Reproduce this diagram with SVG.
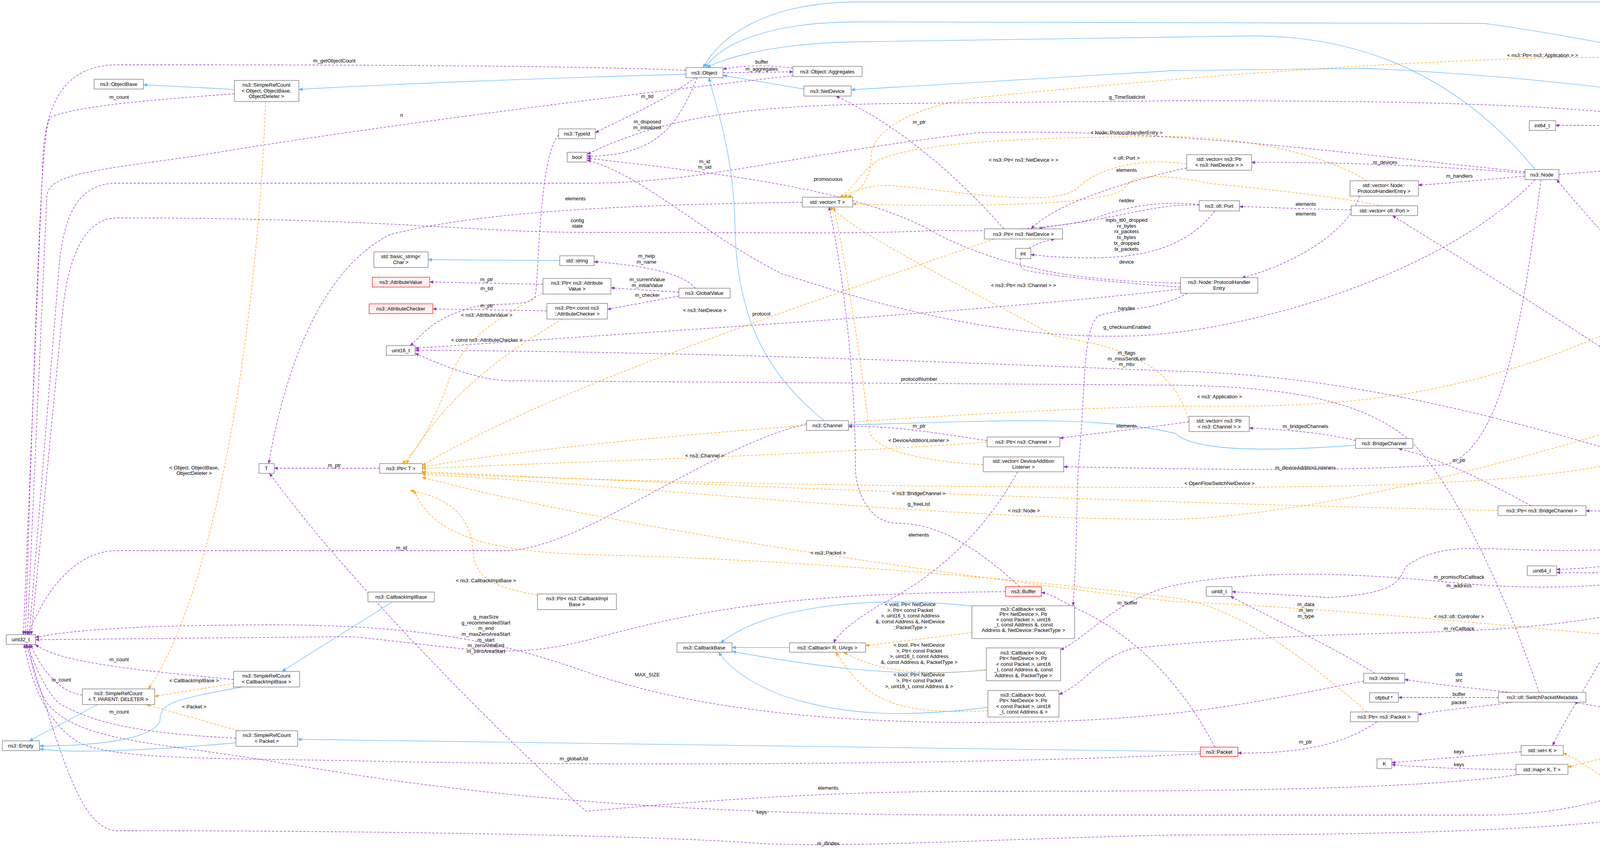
<svg xmlns="http://www.w3.org/2000/svg" width="6035" height="2179" viewBox="0 0 6035 2179">
<style>
rect{fill:#fff;stroke:#666;stroke-width:1.2}
.r rect{fill:#fff0f0;stroke:#f00}
.g rect{fill:#999;stroke:#666}
text{font-family:"Liberation Sans",Arial,sans-serif;font-size:13px;text-anchor:middle;fill:#000}
.u{stroke:#9a32cd;stroke-width:1.3;stroke-dasharray:6,4;fill:none;marker-end:url(#ap)}
.p{stroke:#ffa500;stroke-width:1.3;stroke-dasharray:6,4;fill:none;marker-end:url(#ao)}
.i{stroke:#63b8ff;stroke-width:1.3;fill:none;marker-end:url(#ab)}
</style>
<defs>
<marker id="ap" viewBox="0 0 10 10" refX="9" refY="5" markerWidth="10" markerHeight="10" markerUnits="userSpaceOnUse" orient="auto"><path d="M0,1 L10,5 L0,9 z" fill="#9a32cd"/></marker>
<marker id="ao" viewBox="0 0 10 10" refX="9" refY="5" markerWidth="10" markerHeight="10" markerUnits="userSpaceOnUse" orient="auto"><path d="M0,1 L10,5 L0,9 z" fill="#ffa500"/></marker>
<marker id="ab" viewBox="0 0 10 10" refX="9" refY="5" markerWidth="11" markerHeight="11" markerUnits="userSpaceOnUse" orient="auto"><path d="M0,1 L10,5 L0,9 z" fill="#63b8ff"/></marker>
</defs>
<rect x="0" y="0" width="6035" height="2179" style="fill:#fff;stroke:none"/>
<g id="edges">
<!-- inheritance -->
<path class="i" d="M600,229 L367,217"/>
<path class="i" d="M1756,190 C1400,200 1000,215 765,229"/>
<path class="i" d="M2058,228 L1851,193"/>
<path class="i" d="M2110,1077 C1950,950 1890,800 1882,600 C1880,400 1840,300 1815,199"/>
<path class="i" d="M3930,434 C3820,300 3600,90 3200,92 L2200,107 C1950,110 1830,160 1810,173"/>
<path class="i" d="M4735,280 C4600,230 4300,130 3800,60 L2200,56 C1950,56 1840,120 1805,173"/>
<path class="i" d="M5733,1438 C5720,1100 5700,300 5620,80 C5580,20 5550,5 5400,5 L2200,5 C1950,5 1840,100 1800,173"/>
<path class="i" d="M4780,1315 C4760,900 4720,400 4620,340 C4500,260 4000,200 3500,175 L3000,181 L2179,230"/>
<path class="i" d="M3470,1140 C3200,1160 3050,1150 3010,1110 C2800,1060 2500,1080 2172,1088"/>
<path class="i" d="M1005,1541 L722,1719"/>
<path class="i" d="M250,1804 L75,1897"/>
<path class="i" d="M620,1759 C450,1790 410,1800 410,1840 C410,1880 300,1910 101,1910"/>
<path class="i" d="M604,1902 C400,1920 200,1930 101,1918"/>
<path class="i" d="M3073,1925 L762,1893"/>
<path class="i" d="M1433,667 L1096,665"/>
<path class="i" d="M2021,1658 L1874,1658"/>
<path class="i" d="M2500,1553 C2200,1520 1950,1560 1845,1646"/>
<path class="i" d="M2525,1715 C2300,1740 2050,1700 1874,1668"/>
<path class="i" d="M2529,1811 C2300,1840 2150,1830 2000,1780 C1900,1740 1860,1700 1840,1670"/>
<!-- templates -->
<path class="p" d="M680,260 C660,800 560,1500 380,1764"/>
<path class="p" d="M598,1750 L396,1783"/>
<path class="p" d="M610,1871 L375,1804"/>
<path class="p" d="M1390,750 C1250,830 1180,870 1140,1000 C1100,1100 1070,1150 1030,1187"/>
<path class="p" d="M1440,817 C1300,900 1150,1000 1040,1187"/>
<path class="p" d="M2545,612 C2000,800 1400,1000 1081,1192"/>
<path class="p" d="M2527,1132 C2000,1170 1500,1180 1081,1200"/>
<path class="p" d="M3835,1307 C3000,1290 2000,1250 1081,1208"/>
<path class="p" d="M4340,1036 C4000,1150 3400,1320 3000,1330 C2400,1330 1600,1240 1081,1215"/>
<path class="p" d="M3500,1823 C3300,1650 3150,1550 3000,1530 C2600,1480 2000,1430 1500,1420 C1200,1410 1100,1350 1060,1256"/>
<path class="p" d="M5060,356 C4900,500 4500,700 4000,900 C3600,1050 3300,1040 3000,1040 C2500,1050 1500,1120 1081,1196"/>
<path class="p" d="M5058,1308 C4900,1150 4600,1100 4300,1150 C4000,1230 3700,1248 3000,1248 C2200,1248 1500,1230 1081,1211"/>
<path class="p" d="M1376,1524 C1250,1500 1215,1480 1210,1400 C1200,1300 1120,1270 1050,1256"/>
<path class="p" d="M5930,1578 C5850,1650 5800,1657 5700,1657 L4500,1657 C4000,1620 3500,1560 3000,1540 C2500,1480 1600,1360 1081,1222"/>
<path class="p" d="M5397,323 C5300,200 5250,147 5100,147 L4000,147 C3500,160 3000,200 2500,250 C2300,280 2230,350 2230,400 C2230,460 2200,490 2170,505"/>
<path class="p" d="M3038,420 C2900,400 2800,440 2760,480 C2700,540 2400,480 2270,475 C2220,475 2180,490 2160,505"/>
<path class="p" d="M3500,463 C3400,400 3200,350 3000,350 C2700,350 2350,360 2250,410 C2200,440 2190,480 2150,505"/>
<path class="p" d="M3540,527 C3400,500 3200,480 3100,470 C2950,440 2900,450 2880,480 C2850,530 2400,530 2183,522"/>
<path class="p" d="M3044,1080 C3000,900 2800,880 2700,860 C2400,700 2200,600 2125,530"/>
<path class="p" d="M2517,1190 C2350,1180 2230,1150 2225,1100 C2200,900 2170,700 2135,530"/>
<path class="p" d="M2488,1620 L2216,1653"/>
<path class="p" d="M2525,1716 C2350,1730 2250,1720 2160,1670"/>
<path class="p" d="M2529,1820 C2300,1830 2220,1800 2140,1670"/>
<path class="p" d="M5385,1471 C5250,1650 5100,1900 4900,2050 C4700,2180 4400,2150 4200,2050 C4100,1990 4050,1950 4002,1928"/>
<path class="p" d="M4330,1884 L4014,1964"/>
<!-- usage -->
<path class="u" d="M1756,180 C1400,165 600,166 300,166 C200,166 120,220 110,400 L60,1625"/>
<path class="u" d="M600,240 C400,255 200,270 130,300 C110,320 100,500 65,1625"/>
<path class="u" d="M2030,194 C1700,230 900,330 500,400 C200,440 130,450 120,500 L70,1625"/>
<path class="u" d="M3904,440 C3500,400 3000,326 2500,340 C2000,400 1800,469 1500,469 L300,469 C200,469 160,550 150,700 L75,1625"/>
<path class="u" d="M3070,525 C2900,520 2800,600 2400,590 C2200,600 2000,595 1500,595 C1200,595 1000,558 300,558 C200,558 170,700 160,800 L80,1625"/>
<path class="u" d="M2065,1085 C1800,1150 1500,1400 1300,1410 L300,1410 C200,1410 120,1500 72,1625"/>
<path class="u" d="M598,1740 C400,1720 150,1700 91,1650"/>
<path class="u" d="M211,1780 C150,1770 110,1720 78,1650"/>
<path class="u" d="M604,1890 C400,1880 250,1860 150,1800 C110,1760 90,1700 68,1650"/>
<path class="u" d="M2574,1515 C2000,1520 1800,1560 1500,1640 C1300,1690 1200,1660 900,1630 L91,1638"/>
<path class="u" d="M3073,1930 C2500,1960 1500,1960 1000,1950 C600,1940 300,1950 200,1900 C120,1850 80,1750 62,1650"/>
<path class="u" d="M3491,1744 C3200,1800 3000,1850 2500,1850 C2000,1850 1700,1790 1500,1720 C1300,1650 1100,1600 700,1600 C400,1600 200,1610 91,1632"/>
<path class="u" d="M4400,1884 C4300,1990 4100,2087 3800,2087 L2500,2087 C1500,2087 1000,2000 700,1950 C400,1900 200,1900 120,1800 C90,1750 80,1700 75,1650"/>
<path class="u" d="M4740,1341 C4700,1600 4600,1900 4400,2050 C4200,2130 3500,2138 3000,2138 C2500,2150 2200,2170 1950,2160 C1700,2140 1000,2127 300,2127 C200,2127 150,1900 66,1650"/>
<path class="u" d="M3890,1983 C3600,2026 3000,2026 2500,2026 C2000,2026 1600,2070 1500,2077 C1300,1900 900,1500 690,1212"/>
<path class="u" d="M2054,518 C1500,525 1200,550 1000,600 C800,700 720,1000 688,1187"/>
<path class="u" d="M972,1199 L702,1199"/>
<path class="u" d="M1780,199 C1700,260 1600,300 1524,340"/>
<path class="u" d="M1785,199 C1740,300 1700,400 1503,400"/>
<path class="u" d="M3022,725 C2800,720 2600,700 2400,600 C2200,480 1800,440 1503,405"/>
<path class="u" d="M4364,315 C4000,260 3500,258 3000,258 L2300,265 C1900,270 1700,300 1503,395"/>
<path class="u" d="M3930,460 C3700,700 3200,850 2900,860 C2600,870 2300,800 2000,700 C1800,600 1650,450 1503,410"/>
<path class="u" d="M1430,345 C1380,400 1380,700 1370,760 C1350,790 1250,770 1200,790 C1100,820 1080,860 1050,885"/>
<path class="u" d="M3022,740 C2500,800 1800,840 1063,892"/>
<path class="u" d="M4667,1325 C4000,1100 3500,960 3000,950 C2500,930 1800,900 1063,897"/>
<path class="u" d="M3940,1773 C3850,1500 3700,1200 3600,1120 C3450,1000 3200,990 3000,986 L1300,975 C1200,970 1100,920 1063,905"/>
<path class="u" d="M1780,738 C1750,700 1650,680 1521,670"/>
<path class="u" d="M1738,748 L1564,737"/>
<path class="u" d="M1738,758 L1555,792"/>
<path class="u" d="M1390,728 L1100,722"/>
<path class="u" d="M1400,796 L1108,791"/>
<path class="u" d="M1851,186 L2030,184"/>
<path class="u" d="M2030,174 C1950,165 1900,168 1851,177"/>
<path class="u" d="M2570,586 C2450,450 2300,320 2140,246"/>
<path class="u" d="M3038,430 C2900,460 2700,520 2640,586"/>
<path class="u" d="M3070,524 C2950,510 2850,540 2800,560 C2750,575 2700,575 2660,586"/>
<path class="u" d="M3110,540 C3050,620 2950,660 2800,660 C2700,660 2670,655 2639,652"/>
<path class="u" d="M3022,735 C2800,720 2650,700 2620,690 C2600,670 2610,630 2700,612"/>
<path class="u" d="M3040,751 C2950,800 2850,790 2810,810 C2770,850 2780,1000 2760,1200 C2755,1350 2755,1450 2747,1551"/>
<path class="u" d="M4667,1335 C4400,1480 4100,1530 3700,1490 C3300,1450 3100,1480 3000,1500 C2850,1540 2800,1620 2715,1664"/>
<path class="u" d="M4667,1338 C4400,1550 4100,1610 3600,1620 C3200,1630 3000,1650 2900,1660 C2800,1690 2780,1750 2711,1778"/>
<path class="u" d="M3110,1913 C3000,1700 2850,1600 2760,1560 C2700,1530 2690,1520 2666,1517"/>
<path class="u" d="M2610,1502 C2500,1400 2400,1340 2300,1340 C2220,1340 2190,1250 2190,1200 C2190,900 2140,600 2122,530"/>
<path class="u" d="M2605,1208 C2500,1400 2350,1500 2250,1550 C2170,1600 2140,1630 2135,1646"/>
<path class="u" d="M2527,1128 C2400,1110 2300,1090 2172,1092"/>
<path class="u" d="M3044,1080 C2900,1100 2800,1110 2713,1122"/>
<path class="u" d="M3470,1128 C3400,1110 3300,1100 3198,1096"/>
<path class="u" d="M3920,1295 C3800,1230 3700,1180 3580,1148"/>
<path class="u" d="M3945,460 C3900,800 3850,1150 3700,1190 C3400,1210 3000,1200 2723,1195"/>
<path class="u" d="M4667,1325 C4500,1318 4200,1310 4060,1308"/>
<path class="u" d="M4740,1315 C4680,1250 4600,1240 4454,1230"/>
<path class="u" d="M4700,1315 C4620,1290 4550,1285 4462,1280"/>
<path class="u" d="M4700,1341 C4600,1370 4550,1385 4481,1395"/>
<path class="u" d="M4370,1403 C4200,1440 4100,1455 3985,1458"/>
<path class="u" d="M4680,1341 C4600,1420 4400,1440 4200,1460 C4100,1470 4050,1466 3985,1466"/>
<path class="u" d="M4400,334 C4350,800 4300,1300 4200,1500 C4100,1700 4000,1850 3975,1909"/>
<path class="u" d="M4335,1395 C4000,1420 3900,1405 3800,1405 C3700,1400 3640,1420 3600,1450 C3580,1480 3590,1520 3400,1530 L3154,1515"/>
<path class="u" d="M3520,1724 C3400,1650 3250,1580 3150,1527"/>
<path class="u" d="M3870,1773 C3750,1760 3700,1755 3596,1740"/>
<path class="u" d="M3836,1786 L3580,1786"/>
<path class="u" d="M3870,1798 C3800,1810 3700,1815 3630,1830"/>
<path class="u" d="M3525,1848 C3450,1900 3350,1930 3169,1928"/>
<path class="u" d="M4302,1850 C4200,1830 4100,1810 4030,1798"/>
<path class="u" d="M3894,1925 L3563,1953"/>
<path class="u" d="M3881,1970 C3750,1970 3650,1965 3563,1958"/>
<path class="u" d="M4770,1341 C4740,1500 4600,1700 4440,1845"/>
<path class="u" d="M4790,1341 C4850,1450 4920,1557 5080,1557 L5896,1557"/>
<path class="u" d="M5912,1538 C5870,1500 5830,1480 5768,1463"/>
<path class="u" d="M5664,1450 L5532,1450"/>
<path class="u" d="M5360,1431 C5260,1390 5200,1370 5150,1348"/>
<path class="u" d="M4992,1328 L4895,1328"/>
<path class="u" d="M4720,1315 C4650,1200 4550,1100 4480,1036"/>
<path class="u" d="M4420,1011 C4300,800 4100,600 3985,460"/>
<path class="u" d="M4760,307 C4700,400 4650,500 4600,620 C4550,800 4480,950 4445,1011"/>
<path class="u" d="M3904,443 C3600,420 3400,415 3204,416"/>
<path class="u" d="M3904,451 C3800,460 3700,470 3631,474"/>
<path class="u" d="M3480,502 C3450,600 3300,680 3180,711"/>
<path class="u" d="M3459,537 C3300,535 3250,530 3173,529"/>
<path class="u" d="M4700,1315 C4300,1000 3800,700 3565,552"/>
<path class="u" d="M3991,447 C4300,420 4500,412 5100,412 C5250,410 5320,390 5350,363"/>
<path class="u" d="M4717,297 C4600,305 4500,310 4451,316"/>
<path class="u" d="M5010,330 C4950,315 4900,305 4844,302"/>
<path class="u" d="M5334,343 L5192,343"/>
<path class="u" d="M4700,1315 C4680,1000 4560,700 4500,570 C4460,480 4430,400 4416,334"/>
<path class="u" d="M4364,321 L3982,321"/>
<!-- labels -->
<text x="856" y="160">m_getObjectCount</text>
<text x="305" y="253">m_count</text>
<text x="1028" y="299">n</text>
<text x="1473" y="513">elements</text>
<text x="1478" y="569">config</text><text x="1478" y="583">state</text>
<text x="1804" y="418">m_id</text><text x="1804" y="432">m_sid</text>
<text x="1028" y="1407">m_id</text>
<text x="305" y="1693">m_count</text>
<text x="157" y="1745">m_count</text>
<text x="305" y="1827">m_count</text>
<text x="1244" y="1584">g_maxSize</text><text x="1244" y="1599">g_recommendedStart</text><text x="1244" y="1613">m_end</text><text x="1244" y="1628">m_maxZeroAreaStart</text><text x="1244" y="1643">m_start</text><text x="1244" y="1657">m_zeroAreaEnd</text><text x="1244" y="1672">m_zeroAreaStart</text>
<text x="1469" y="1947">m_globalUid</text>
<text x="1657" y="1732">MAX_SIZE</text>
<text x="1950" y="2084">keys</text>
<text x="2120" y="2164">m_ifIndex</text>
<text x="2120" y="2022">elements</text>
<text x="856" y="1196">m_ptr</text>
<text x="1657" y="251">m_tid</text>
<text x="1657" y="316">m_disposed</text><text x="1657" y="331">m_initialized</text>
<text x="2120" y="463">promiscuous</text>
<text x="2885" y="253">g_TimeStaticInit</text>
<text x="2885" y="842">g_checksumEnabled</text>
<text x="1246" y="743">m_tid</text>
<text x="1949" y="808">protocol</text>
<text x="2884" y="908">m_flags</text><text x="2884" y="923">m_missSendLen</text><text x="2884" y="937">m_mtu</text>
<text x="2353" y="975">protocolNumber</text>
<text x="1655" y="660">m_help</text><text x="1655" y="675">m_name</text>
<text x="1657" y="720">m_currentValue</text><text x="1657" y="735">m_initialValue</text>
<text x="1657" y="760">m_checker</text>
<text x="1246" y="720">m_ptr</text>
<text x="1246" y="787">m_ptr</text>
<text x="1950" y="163">buffer</text><text x="1950" y="181">m_aggregates</text>
<text x="2353" y="317">m_ptr</text>
<text x="2884" y="440">elements</text>
<text x="2884" y="518">netdev</text>
<text x="2884" y="568">mpls_ttl0_dropped</text><text x="2884" y="583">rx_bytes</text><text x="2884" y="597">rx_packets</text><text x="2884" y="612">tx_bytes</text><text x="2884" y="627">tx_dropped</text><text x="2884" y="642">tx_packets</text>
<text x="2884" y="675">device</text>
<text x="2884" y="794">handler</text>
<text x="3735" y="1482">m_promiscRxCallback</text>
<text x="3735" y="1614">m_rxCallback</text>
<text x="2886" y="1548">m_buffer</text>
<text x="2352" y="1295">g_freeList</text>
<text x="2352" y="1374">elements</text>
<text x="2353" y="1095">m_ptr</text>
<text x="2884" y="1095">elements</text>
<text x="3342" y="1096">m_bridgedChannels</text>
<text x="3735" y="1183">m_ptr</text>
<text x="3342" y="1202">m_deviceAdditionListeners</text>
<text x="4409" y="1311">m_channel</text>
<text x="4592" y="1243">m_chain</text>
<text x="4592" y="1288">m_vportTable</text>
<text x="4592" y="1356">m_address</text>
<text x="4182" y="1421">m_allocationIndex</text>
<text x="4409" y="1427">m_id</text>
<text x="4182" y="1465">g_markingTimes</text>
<text x="3735" y="1504">m_address</text>
<text x="3343" y="1552">m_data</text><text x="3343" y="1567">m_len</text><text x="3343" y="1582">m_type</text>
<text x="3735" y="1731">dst</text><text x="3735" y="1746">src</text>
<text x="3735" y="1782">buffer</text>
<text x="3735" y="1803">packet</text>
<text x="3342" y="1904">m_ptr</text>
<text x="4182" y="1807">elements</text>
<text x="3735" y="1929">keys</text>
<text x="3735" y="1962">keys</text>
<text x="4592" y="1636">m_packetData</text>
<text x="5422" y="1553">m_controller</text>
<text x="5851" y="1493">m_ptr</text>
<text x="5600" y="1447">m_switches</text>
<text x="5250" y="1372">keys</text>
<text x="4943" y="1324">m_ptr</text>
<text x="4592" y="1065">m_node</text>
<text x="4209" y="628">m_ptr</text>
<text x="4592" y="432">m_node</text>
<text x="3546" y="420">m_devices</text>
<text x="3736" y="455">m_handlers</text>
<text x="3343" y="527">elements</text>
<text x="3343" y="552">elements</text>
<text x="4183" y="927">m_ports</text>
<text x="4782" y="407">m_applications</text>
<text x="4592" y="284">m_startTime</text><text x="4592" y="300">m_stopTime</text>
<text x="4943" y="312">m_ptr</text>
<text x="5252" y="340">elements</text>
<text x="4592" y="655">m_lastExecute</text><text x="4592" y="671">m_lookupDelay</text>
<text x="4210" y="316">m_data</text>
<text x="497" y="1202">&lt; Object, ObjectBase,</text><text x="497" y="1216">ObjectDeleter &gt;</text>
<text x="497" y="1747">&lt; CallbackImplBase &gt;</text>
<text x="497" y="1814">&lt; Packet &gt;</text>
<text x="1244" y="1491">&lt; ns3::CallbackImplBase &gt;</text>
<text x="1246" y="811">&lt; ns3::AttributeValue &gt;</text>
<text x="1246" y="875">&lt; const ns3::AttributeChecker &gt;</text>
<text x="1804" y="799">&lt; ns3::NetDevice &gt;</text>
<text x="1804" y="1171">&lt; ns3::Channel &gt;</text>
<text x="2352" y="1268">&lt; ns3::BridgeChannel &gt;</text>
<text x="2621" y="1312">&lt; ns3::Node &gt;</text>
<text x="2120" y="1420">&lt; ns3::Packet &gt;</text>
<text x="2352" y="1132">&lt; DeviceAdditionListener &gt;</text>
<text x="2620" y="414">&lt; ns3::Ptr&lt; ns3::NetDevice &gt; &gt;</text>
<text x="2884" y="409">&lt; ofi::Port &gt;</text>
<text x="2884" y="344">&lt; Node::ProtocolHandlerEntry &gt;</text>
<text x="3949" y="146">&lt; ns3::Ptr&lt; ns3::Application &gt; &gt;</text>
<text x="3122" y="1020">&lt; ns3::Application &gt;</text>
<text x="3122" y="1242">&lt; OpenFlowSwitchNetDevice &gt;</text>
<text x="2620" y="735">&lt; ns3::Ptr&lt; ns3::Channel &gt; &gt;</text>
<text x="3735" y="1583">&lt; ns3::ofi::Controller &gt;</text>
<text x="4182" y="1876">&lt; uint32_t, ofi::SwitchPacket</text><text x="4182" y="1891">Metadata &gt;</text>
<text x="4783" y="1959">&lt; Ptr&lt; OpenFlowSwitchNet</text><text x="4783" y="1974">Device &gt; &gt;</text>
<text x="2330" y="1552">&lt; void, Ptr&lt; NetDevice</text><text x="2330" y="1567">&gt;, Ptr&lt; const Packet</text><text x="2330" y="1581">&gt;, uint16_t, const Address</text><text x="2330" y="1596">&amp;, const Address &amp;, NetDevice</text><text x="2330" y="1611">::PacketType &gt;</text>
<text x="2353" y="1656">&lt; bool, Ptr&lt; NetDevice</text><text x="2353" y="1671">&gt;, Ptr&lt; const Packet</text><text x="2353" y="1685">&gt;, uint16_t, const Address</text><text x="2353" y="1700">&amp;, const Address &amp;, PacketType &gt;</text>
<text x="2353" y="1732">&lt; bool, Ptr&lt; NetDevice</text><text x="2353" y="1747">&gt;, Ptr&lt; const Packet</text><text x="2353" y="1762">&gt;, uint16_t, const Address &amp; &gt;</text>
</g>
<g id="n_objbase"><rect x="241" y="203" width="126" height="25"/><text x="304" y="220">ns3::ObjectBase</text></g>
<g id="n_src_obj"><rect x="600" y="206" width="165" height="54"/><text x="682" y="222">ns3::SimpleRefCount</text><text x="682" y="237">&lt; Object, ObjectBase,</text><text x="682" y="251">ObjectDeleter &gt;</text></g>
<g id="n_typeid"><rect x="1430" y="330" width="94" height="25"/><text x="1477" y="347">ns3::TypeId</text></g>
<g id="n_bool"><rect x="1452" y="390" width="51" height="25"/><text x="1477" y="407">bool</text></g>
<g id="n_bstr"><rect x="957" y="645" width="139" height="40"/><text x="1026" y="661">std::basic_string&lt;</text><text x="1026" y="676">Char &gt;</text></g>
<g id="n_attrval" class="r"><rect x="953" y="710" width="147" height="25"/><text x="1026" y="727">ns3::AttributeValue</text></g>
<g id="n_attrchk" class="r"><rect x="945" y="778" width="163" height="25"/><text x="1026" y="795">ns3::AttributeChecker</text></g>
<g id="n_uint16"><rect x="989" y="885" width="74" height="25"/><text x="1026" y="902">uint16_t</text></g>
<g id="n_string"><rect x="1433" y="655" width="88" height="25"/><text x="1477" y="672">std::string</text></g>
<g id="n_ptrav"><rect x="1390" y="713" width="174" height="40"/><text x="1477" y="729">ns3::Ptr&lt; ns3::Attribute</text><text x="1477" y="744">Value &gt;</text></g>
<g id="n_ptrac"><rect x="1400" y="777" width="155" height="40"/><text x="1477" y="793">ns3::Ptr&lt; const ns3</text><text x="1477" y="808">::AttributeChecker &gt;</text></g>
<g id="n_object"><rect x="1756" y="173" width="95" height="26"/><text x="1803" y="191">ns3::Object</text></g>
<g id="n_aggr"><rect x="2030" y="170" width="177" height="26"/><text x="2118" y="188">ns3::Object::Aggregates</text></g>
<g id="n_netdev"><rect x="2058" y="220" width="121" height="26"/><text x="2118" y="238">ns3::NetDevice</text></g>
<g id="n_vecT"><rect x="2054" y="505" width="129" height="25"/><text x="2118" y="522">std::vector&lt; T &gt;</text></g>
<g id="n_ptrnd"><rect x="2520" y="586" width="200" height="26"/><text x="2620" y="604">ns3::Ptr&lt; ns3::NetDevice &gt;</text></g>
<g id="n_int"><rect x="2600" y="636" width="39" height="26"/><text x="2619" y="654">int</text></g>
<g id="n_gv"><rect x="1738" y="738" width="131" height="25"/><text x="1803" y="755">ns3::GlobalValue</text></g>
<g id="n_channel"><rect x="2065" y="1077" width="107" height="25"/><text x="2118" y="1094">ns3::Channel</text></g>
<g id="n_T"><rect x="663" y="1187" width="39" height="25"/><text x="682" y="1204">T</text></g>
<g id="n_ptrT"><rect x="972" y="1187" width="109" height="25"/><text x="1026" y="1204">ns3::Ptr&lt; T &gt;</text></g>
<g id="n_cib"><rect x="942" y="1516" width="170" height="25"/><text x="1027" y="1533">ns3::CallbackImplBase</text></g>
<g id="n_ptrcib"><rect x="1376" y="1521" width="202" height="40"/><text x="1477" y="1537">ns3::Ptr&lt; ns3::CallbackImpl</text><text x="1477" y="1552">Base &gt;</text></g>
<g id="n_uint32"><rect x="16" y="1625" width="75" height="25"/><text x="53" y="1642">uint32_t</text></g>
<g id="n_src_cib"><rect x="598" y="1719" width="169" height="40"/><text x="682" y="1735">ns3::SimpleRefCount</text><text x="682" y="1750">&lt; CallbackImplBase &gt;</text></g>
<g id="n_src_tpd"><rect x="211" y="1764" width="185" height="40"/><text x="303" y="1780">ns3::SimpleRefCount</text><text x="303" y="1795">&lt; T, PARENT, DELETER &gt;</text></g>
<g id="n_empty"><rect x="6" y="1897" width="95" height="25"/><text x="53" y="1914">ns3::Empty</text></g>
<g id="n_src_pkt"><rect x="604" y="1871" width="158" height="40"/><text x="683" y="1887">ns3::SimpleRefCount</text><text x="683" y="1902">&lt; Packet &gt;</text></g>
<g id="n_ptrch"><rect x="2527" y="1119" width="186" height="25"/><text x="2620" y="1136">ns3::Ptr&lt; ns3::Channel &gt;</text></g>
<g id="n_vecdal"><rect x="2517" y="1170" width="206" height="38"/><text x="2620" y="1185">std::vector&lt; DeviceAddition</text><text x="2620" y="1200">Listener &gt;</text></g>
<g id="n_buffer" class="r"><rect x="2574" y="1502" width="92" height="25"/><text x="2620" y="1519">ns3::Buffer</text></g>
<g id="n_cbvoid"><rect x="2488" y="1551" width="263" height="84"/><text x="2620" y="1564">ns3::Callback&lt; void,</text><text x="2620" y="1577">Ptr&lt; NetDevice &gt;, Ptr</text><text x="2620" y="1591">&lt; const Packet &gt;, uint16</text><text x="2620" y="1604">_t, const Address &amp;, const</text><text x="2620" y="1618">Address &amp;, NetDevice::PacketType &gt;</text></g>
<g id="n_cbbase"><rect x="1733" y="1646" width="141" height="24"/><text x="1803" y="1663">ns3::CallbackBase</text></g>
<g id="n_cbR"><rect x="2021" y="1646" width="195" height="24"/><text x="2118" y="1663">ns3::Callback&lt; R, UArgs &gt;</text></g>
<g id="n_cbb1"><rect x="2525" y="1659" width="190" height="84"/><text x="2620" y="1676">ns3::Callback&lt; bool,</text><text x="2620" y="1690">Ptr&lt; NetDevice &gt;, Ptr</text><text x="2620" y="1705">&lt; const Packet &gt;, uint16</text><text x="2620" y="1719">_t, const Address &amp;, const</text><text x="2620" y="1734">Address &amp;, PacketType &gt;</text></g>
<g id="n_cbb2"><rect x="2529" y="1768" width="182" height="68"/><text x="2620" y="1784">ns3::Callback&lt; bool,</text><text x="2620" y="1798">Ptr&lt; NetDevice &gt;, Ptr</text><text x="2620" y="1813">&lt; const Packet &gt;, uint16</text><text x="2620" y="1827">_t, const Address &amp; &gt;</text></g>
<g id="n_int64"><rect x="3915" y="309" width="67" height="25"/><text x="3948" y="326">int64_t</text></g>
<g id="n_time"><rect x="4364" y="309" width="87" height="25"/><text x="4407" y="326">ns3::Time</text></g>
<g id="n_vecpnd"><rect x="3038" y="396" width="166" height="40"/><text x="3121" y="412">std::vector&lt; ns3::Ptr</text><text x="3121" y="427">&lt; ns3::NetDevice &gt; &gt;</text></g>
<g id="n_node"><rect x="3904" y="434" width="87" height="26"/><text x="3947" y="452">ns3::Node</text></g>
<g id="n_vecphe"><rect x="3456" y="463" width="175" height="39"/><text x="3543" y="479">std::vector&lt; Node::</text><text x="3543" y="494">ProtocolHandlerEntry &gt;</text></g>
<g id="n_port"><rect x="3070" y="514" width="103" height="26"/><text x="3121" y="532">ns3::ofi::Port</text></g>
<g id="n_vecport"><rect x="3459" y="527" width="170" height="25"/><text x="3544" y="544">std::vector&lt; ofi::Port &gt;</text></g>
<g id="n_phe"><rect x="3022" y="711" width="198" height="40"/><text x="3121" y="727">ns3::Node::ProtocolHandler</text><text x="3121" y="742">Entry</text></g>
<g id="n_ptrnode"><rect x="4324" y="1011" width="166" height="25"/><text x="4407" y="1028">ns3::Ptr&lt; ns3::Node &gt;</text></g>
<g id="n_vecpch"><rect x="3044" y="1066" width="154" height="39"/><text x="3121" y="1082">std::vector&lt; ns3::Ptr</text><text x="3121" y="1097">&lt; ns3::Channel &gt; &gt;</text></g>
<g id="n_bridge"><rect x="3470" y="1123" width="147" height="25"/><text x="3543" y="1140">ns3::BridgeChannel</text></g>
<g id="n_swchain"><rect x="4361" y="1214" width="93" height="24"/><text x="4407" y="1231">sw_chain *</text></g>
<g id="n_vport"><rect x="4354" y="1262" width="108" height="26"/><text x="4408" y="1280">vport_table_t</text></g>
<g id="n_ptrbc"><rect x="3835" y="1295" width="225" height="25"/><text x="3947" y="1312">ns3::Ptr&lt; ns3::BridgeChannel &gt;</text></g>
<g id="n_mac"><rect x="4335" y="1379" width="146" height="24"/><text x="4408" y="1396">ns3::Mac48Address</text></g>
<g id="n_uint64"><rect x="3910" y="1449" width="75" height="25"/><text x="3947" y="1466">uint64_t</text></g>
<g id="n_uint8"><rect x="3088" y="1502" width="66" height="25"/><text x="3121" y="1519">uint8_t</text></g>
<g id="n_addr"><rect x="3491" y="1724" width="105" height="25"/><text x="3543" y="1741">ns3::Address</text></g>
<g id="n_ofpbuf"><rect x="3506" y="1774" width="74" height="24"/><text x="3543" y="1791">ofpbuf *</text></g>
<g id="n_spm"><rect x="3836" y="1773" width="224" height="25"/><text x="3948" y="1790">ns3::ofi::SwitchPacketMetadata</text></g>
<g id="n_ptrpkt"><rect x="3457" y="1823" width="173" height="25"/><text x="3543" y="1840">ns3::Ptr&lt; ns3::Packet &gt;</text></g>
<g id="n_packet" class="r"><rect x="3073" y="1913" width="96" height="24"/><text x="3121" y="1930">ns3::Packet</text></g>
<g id="n_mapspm"><rect x="4302" y="1845" width="211" height="39"/><text x="4407" y="1861">std::map&lt; uint32_t,</text><text x="4407" y="1876">ofi::SwitchPacketMetadata &gt;</text></g>
<g id="n_setK"><rect x="3894" y="1909" width="108" height="25"/><text x="3948" y="1926">std::set&lt; K &gt;</text></g>
<g id="n_K"><rect x="3525" y="1943" width="38" height="25"/><text x="3544" y="1960">K</text></g>
<g id="n_mapKT"><rect x="3881" y="1957" width="133" height="26"/><text x="3947" y="1975">std::map&lt; K, T &gt;</text></g>
<g id="n_app" class="r"><rect x="4717" y="280" width="127" height="27"/><text x="4780" y="298">ns3::Application</text></g>
<g id="n_ptrapp"><rect x="4987" y="330" width="205" height="26"/><text x="5089" y="348">ns3::Ptr&lt; ns3::Application &gt;</text></g>
<g id="n_vecpapp"><rect x="5334" y="323" width="171" height="40"/><text x="5419" y="339">std::vector&lt; ns3::Ptr</text><text x="5419" y="354">&lt; ns3::Application &gt; &gt;</text></g>
<g id="n_ofsnd" class="g"><rect x="4667" y="1315" width="228" height="26"/><text x="4781" y="1333">ns3::OpenFlowSwitchNetDevice</text></g>
<g id="n_ptrof"><rect x="4992" y="1308" width="194" height="40"/><text x="5089" y="1324">ns3::Ptr&lt; OpenFlowSwitch</text><text x="5089" y="1339">NetDevice &gt;</text></g>
<g id="n_setof"><rect x="5307" y="1431" width="225" height="40"/><text x="5419" y="1447">std::set&lt; Ptr&lt; OpenFlowSwitch</text><text x="5419" y="1462">NetDevice &gt; &gt;</text></g>
<g id="n_ctrl"><rect x="5664" y="1438" width="141" height="25"/><text x="5734" y="1455">ns3::ofi::Controller</text></g>
<g id="n_ptrctrl"><rect x="5896" y="1538" width="133" height="40"/><text x="5962" y="1554">ns3::Ptr&lt; ns3::ofi</text><text x="5962" y="1569">::Controller &gt;</text></g>
</svg>
